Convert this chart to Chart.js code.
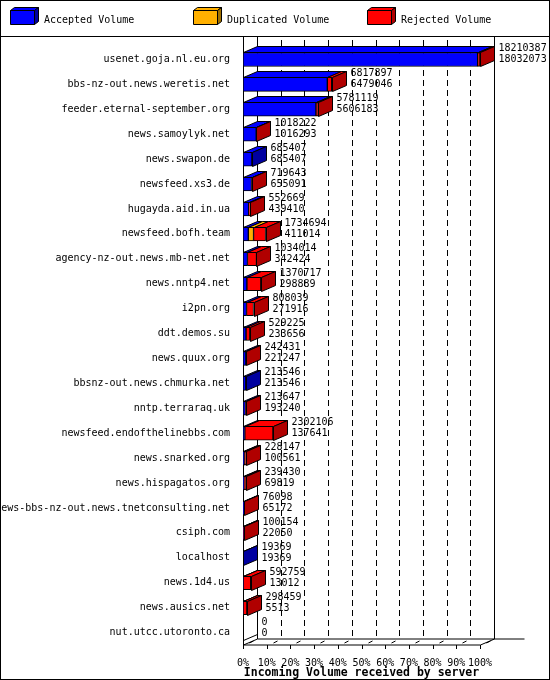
<!DOCTYPE html>
<html>
<head>
<meta charset="utf-8">
<script src="https://cdn.jsdelivr.net/npm/chart.js@4/dist/chart.umd.min.js"></script>
<style>
  html, body { margin: 0; padding: 0; background: #fff; }
  #wrap { width: 550px; height: 680px; position: relative; }
</style>
</head>
<body>
<div id="wrap"><canvas id="chart" width="550" height="680"></canvas></div>
<script>
const servers = [
  "usenet.goja.nl.eu.org", "bbs-nz-out.news.weretis.net", "feeder.eternal-september.org",
  "news.samoylyk.net", "news.swapon.de", "newsfeed.xs3.de", "hugayda.aid.in.ua",
  "newsfeed.bofh.team", "agency-nz-out.news.mb-net.net", "news.nntp4.net", "i2pn.org",
  "ddt.demos.su", "news.quux.org", "bbsnz-out.news.chmurka.net", "nntp.terraraq.uk",
  "newsfeed.endofthelinebbs.com", "news.snarked.org", "news.hispagatos.org",
  "news-bbs-nz-out.news.tnetconsulting.net", "csiph.com", "localhost", "news.1d4.us",
  "news.ausics.net", "nut.utcc.utoronto.ca"
];
const totalVolume = [18210387, 6817897, 5781119, 1018222, 685407, 719643, 552669, 1734694,
  1034014, 1370717, 808039, 529225, 242431, 213546, 213647, 2302106, 228147, 239430,
  76098, 100154, 19369, 592759, 298459, 0];
const acceptedVolume = [18032073, 6479046, 5606183, 1016293, 685407, 655091, 439410, 411014,
  342424, 298889, 271916, 233656, 221247, 213546, 193240, 137641, 100561, 69819,
  65172, 22050, 19369, 13012, 5513, 0];
const duplicatedVolume = [0, 0, 0, 0, 0, 0, 0, 400000, 0, 0, 0, 0, 0, 0, 0, 0, 0, 0,
  0, 0, 0, 0, 0, 0];
const rejectedVolume = [178314, 338851, 174936, 1929, 0, 64552, 113259, 923680, 691590,
  1071828, 536123, 295569, 21184, 0, 20407, 2164465, 127586, 169611, 10926, 78104,
  0, 579747, 292946, 0];
const percentTicks = [0, 10, 20, 30, 40, 50, 60, 70, 80, 90, 100];

const maxVolume = Math.max(...totalVolume);
const pct = arr => arr.map(v => v / maxVolume * 100);

const FONT = "DejaVu Sans Mono";
const DX = 14, DY = -6;
const colors = [
  { face: "#0000ff", dark: "#0000a0" },
  { face: "#ffb000", dark: "#a07000" },
  { face: "#ff0000", dark: "#b00000" }
];

function poly(ctx, pts, fill) {
  ctx.beginPath();
  ctx.moveTo(pts[0][0], pts[0][1]);
  for (let i = 1; i < pts.length; i++) ctx.lineTo(pts[i][0], pts[i][1]);
  ctx.closePath();
  ctx.fillStyle = fill;
  ctx.fill();
  ctx.stroke();
}

const frame3d = {
  id: "frame3d",
  beforeDraw(chart) {
    const { ctx, chartArea: a, scales } = chart;
    const xs = scales.x;
    ctx.save();
    ctx.fillStyle = "#fff";
    ctx.fillRect(0, 0, chart.width, chart.height);
    ctx.strokeStyle = "#000";
    ctx.lineWidth = 1;
    ctx.strokeRect(0.5, 0.5, chart.width - 1, chart.height - 1);
    ctx.beginPath();
    ctx.moveTo(0, 36.5); ctx.lineTo(chart.width, 36.5);
    ctx.stroke();

    // legend
    ctx.font = "10px " + FONT;
    ctx.textBaseline = "middle";
    const legendX = [10, 193, 367];
    chart.data.datasets.forEach((ds, i) => {
      const x = legendX[i] + 0.5, y = 10.5, w = 24, h = 14;
      poly(ctx, [[x, y], [x + w, y], [x + w, y + h], [x, y + h]], colors[i].face);
      poly(ctx, [[x, y], [x + 4, y - 3], [x + w + 4, y - 3], [x + w, y]], colors[i].face);
      poly(ctx, [[x + w, y], [x + w + 4, y - 3], [x + w + 4, y + h - 3], [x + w, y + h]], colors[i].dark);
      ctx.fillStyle = "#000";
      ctx.fillText(ds.label, legendX[i] + 34, 20);
    });

    // walls and dashed back grid
    const x0 = Math.round(xs.getPixelForValue(0)) + 0.5;
    const x100 = Math.round(xs.getPixelForValue(100)) + 0.5;
    ctx.beginPath();
    ctx.moveTo(x0, 37); ctx.lineTo(x0, a.bottom);
    ctx.moveTo(x0 + DX, 37); ctx.lineTo(x0 + DX, a.bottom + DY);
    ctx.moveTo(x100 + DX, 37); ctx.lineTo(x100 + DX, a.bottom + DY);
    ctx.moveTo(x0 + DX, a.bottom + DY); ctx.lineTo(x100 + DX + 30, a.bottom + DY);
    ctx.moveTo(x0, a.bottom); ctx.lineTo(x0 + DX, a.bottom + DY);
    ctx.moveTo(x0, a.bottom); ctx.lineTo(x100, a.bottom);
    ctx.lineTo(x100 + DX, a.bottom + DY);
    ctx.stroke();
    ctx.setLineDash([6, 4]);
    percentTicks.slice(1, -1).forEach(p => {
      const gx = Math.round(xs.getPixelForValue(p)) + 0.5 + DX;
      ctx.beginPath();
      ctx.moveTo(gx, 40); ctx.lineTo(gx, a.bottom + DY);
      ctx.stroke();
    });
    ctx.setLineDash([]);
    percentTicks.forEach(p => {
      const gx = Math.round(xs.getPixelForValue(p)) + 0.5;
      ctx.beginPath();
      ctx.moveTo(gx, a.bottom + 4); ctx.lineTo(gx, a.bottom);
      ctx.moveTo(gx + 6, a.bottom - 2); ctx.lineTo(gx + 10, a.bottom - 4);
      ctx.stroke();
    });
    ctx.restore();
  },
  afterDatasetsDraw(chart) {
    const { ctx } = chart;
    ctx.save();
    ctx.strokeStyle = "#000";
    ctx.lineWidth = 1;
    const metas = chart.data.datasets.map((d, i) => chart.getDatasetMeta(i));
    servers.forEach((s, r) => {
      let last = -1, right = null, top = null, left = null;
      metas.forEach((m, i) => {
        const el = m.data[r];
        const p = el.getProps(["x", "y", "base", "height"], true);
        const y = Math.round(p.y - p.height / 2) + 0.5;
        if (left === null) left = Math.round(p.base) + 0.5;
        top = y;
        if (chart.data.datasets[i].data[r] <= 0) return;
        const b = Math.round(p.base) + 0.5, x = Math.round(p.x) + 0.5;
        poly(ctx, [[b, y], [x, y], [x + DX, y + DY], [b + DX, y + DY]], colors[i].face);
        last = i; right = x;
      });
      const el = metas[0].data[r];
      const h = Math.round(el.height);
      if (last >= 0) {
        poly(ctx, [[right, top], [right + DX, top + DY], [right + DX, top + DY + h], [right, top + h]], colors[last].dark);
      } else {
        right = left;
        ctx.beginPath();
        ctx.moveTo(left, top + h); ctx.lineTo(left + DX, top + h + DY);
        ctx.stroke();
      }
      ctx.fillStyle = "#000";
      ctx.font = "10px " + FONT;
      ctx.textBaseline = "middle";
      ctx.fillText(String(totalVolume[r]), right + DX + 4, top + DY + 2);
      ctx.fillText(String(acceptedVolume[r]), right + DX + 4, top + DY + 13);
    });
    ctx.restore();
  }
};

Chart.defaults.font.family = FONT;
Chart.defaults.color = "#000";

new Chart(document.getElementById("chart").getContext("2d"), {
  type: "bar",
  plugins: [frame3d],
  data: {
    labels: servers,
    datasets: [
      { label: "Accepted Volume", data: pct(acceptedVolume), backgroundColor: colors[0].face },
      { label: "Duplicated Volume", data: pct(duplicatedVolume), backgroundColor: colors[1].face },
      { label: "Rejected Volume", data: pct(rejectedVolume), backgroundColor: colors[2].face }
    ]
  },
  options: {
    indexAxis: "y",
    responsive: false,
    animation: false,
    layout: { padding: { top: 47, right: 70, left: 0, bottom: 0 } },
    datasets: { bar: { barThickness: 14, borderWidth: 1, borderColor: "#000", borderSkipped: false } },
    plugins: { legend: { display: false }, tooltip: { enabled: false } },
    scales: {
      x: {
        stacked: true,
        min: 0,
        max: 100,
        afterBuildTicks: s => { s.ticks = percentTicks.map(v => ({ value: v })); },
        afterFit: s => { s.height = 35; },
        grid: { display: false },
        border: { display: false },
        ticks: { font: { size: 10 }, padding: 4, maxRotation: 0, autoSkip: false, callback: v => v + "%" },
        title: { display: true, text: "Incoming Volume received by server", font: { size: 11.5, weight: "bold" }, padding: { top: 0, bottom: 0 } }
      },
      y: {
        stacked: true,
        afterFit: s => { s.width = 243; },
        grid: { display: false },
        border: { display: false },
        ticks: { font: { size: 10 }, padding: 5, autoSkip: false }
      }
    }
  }
});
</script>
</body>
</html>
